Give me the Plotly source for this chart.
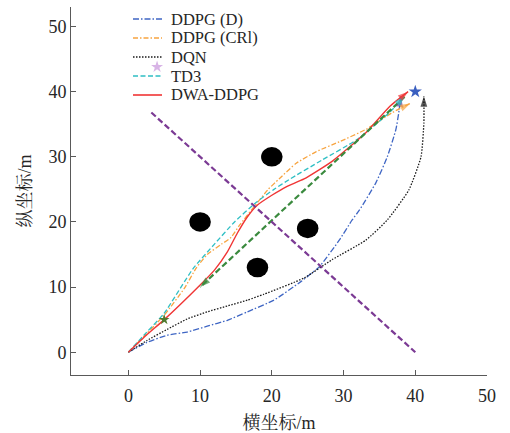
import plotly.graph_objects as go

# ---------------- data ----------------
ddpg_d_x = [0, 2.6, 5.4, 8.2, 11, 13.8, 16.6, 20.3, 24, 26.6, 29.4, 31.2, 32.2, 34.5, 36.1, 37.3, 37.7, 38.0]
ddpg_d_y = [0, 1.5, 2.6, 3.1, 4.0, 4.9, 6.2, 8.0, 10.8, 13.1, 17.2, 20.3, 21.8, 26.0, 30.0, 34.2, 36.8, 39.3]

ddpg_c_x = [0, 2.5, 5, 7.8, 9.5, 11, 13, 14.3, 15.5, 17.5, 19.5, 21, 23.4, 26.2, 29.4, 33.1, 36.8, 39.3]
ddpg_c_y = [0, 2.8, 5.7, 9.8, 13.0, 15.0, 16.6, 17.6, 19.5, 22.3, 25.0, 26.6, 29.0, 30.8, 32.3, 34.2, 36.8, 38.2]

dqn_x = [0, 2.6, 5.4, 8.2, 11, 13.8, 16.6, 18.9, 24.5, 28.4, 33.1, 36.1, 39.1, 40.8, 41.2, 41.2]
dqn_y = [0, 1.8, 3.5, 5.1, 6.2, 7.1, 8.0, 8.9, 11.4, 14.2, 17.2, 20.3, 24.9, 30.0, 35.2, 39.3]

td3_x = [0, 2.5, 5, 9, 12, 14.8, 17.8, 20.3, 22.4, 27, 31.8, 36.4, 38.5]
td3_y = [0, 3.0, 6.0, 12.8, 16.6, 20.0, 23.0, 25.0, 26.5, 29.5, 32.6, 36.8, 39.3]

dwa_x = [0, 2.5, 5, 9.9, 12, 13.8, 15.2, 16.6, 18, 20, 22, 24.5, 28.4, 33.1, 36.4, 39.0]
dwa_y = [0, 2.6, 5.0, 10.2, 12.6, 15.4, 18.3, 20.8, 22.6, 24.1, 25.4, 26.6, 29.3, 33.7, 37.7, 40.0]

green_x = [38.5, 10]
green_y = [39.2, 10]
purple_x = [3.2, 40]
purple_y = [36.8, 0]

obs_x = [20, 10, 25, 18]
obs_y = [30, 20, 19, 13]
obs_r = [1.5, 1.5, 1.5, 1.5]

goal_x, goal_y = [40], [40]
mark_x, mark_y = [5], [5]
star2_x, star2_y = [4], [43.8]

names = ["DDPG (D)", "DDPG (CRl)", "DQN", "TD3", "DWA-DDPG"]
xt = [0, 10, 20, 30, 40, 50]
yt = [0, 10, 20, 30, 40, 50]

FONT = "Liberation Serif, 'Noto Serif CJK SC', 'Noto Sans CJK SC', serif"
TXT = "#262626"
AX = "#595959"

fig = go.Figure()

series = [
    (ddpg_d_x, ddpg_d_y, names[0], "#3f66c4", "6px,2px,1.5px,2px", 1.3, "#6a3d9a"),
    (ddpg_c_x, ddpg_c_y, names[1], "#f7a440", "5px,2px,1.5px,2px", 1.3, "#f7a440"),
    (dqn_x, dqn_y, names[2], "#1a1a1a", "1.5px,1.5px", 1.3, "#111111"),
    (td3_x, td3_y, names[3], "#2fbfc4", "5px,2.5px", 1.3, "#2fbfc4"),
    (dwa_x, dwa_y, names[4], "#f03535", "solid", 1.4, "#f03535"),
]

for x, y, n, c, d, w, ac in series:
    fig.add_trace(go.Scatter(x=x, y=y, mode="lines", name=n, showlegend=False,
                             line=dict(color=c, dash=d, width=w, shape="spline", smoothing=0.5)))

# moving obstacle trajectories
fig.add_trace(go.Scatter(x=green_x, y=green_y, mode="lines", showlegend=False,
                         line=dict(color="#3a8a3e", dash="6px,3px", width=2.2)))
fig.add_trace(go.Scatter(x=purple_x, y=purple_y, mode="lines", showlegend=False,
                         line=dict(color="#7b3a94", dash="6px,3px", width=2.2)))

# arrowheads
for x, y, n, c, d, w, ac in series:
    fig.add_trace(go.Scatter(x=x[-2:], y=y[-2:], mode="markers", showlegend=False,
                             marker=dict(symbol="arrow", angleref="previous", size=[0, 11],
                                         color=ac, line=dict(width=0))))
fig.add_trace(go.Scatter(x=green_x, y=green_y, mode="markers", showlegend=False,
                         marker=dict(symbol="arrow", angleref="previous", size=[0, 11],
                                     color="#3a8a3e", line=dict(width=0))))

fig.add_trace(go.Scatter(x=goal_x, y=goal_y, mode="markers", showlegend=False,
                         marker=dict(symbol="star", size=10, color="#3a5fc0")))
fig.add_trace(go.Scatter(x=mark_x, y=mark_y, mode="markers", showlegend=False,
                         marker=dict(symbol="star", size=8, color="#4f7a2e")))
fig.add_trace(go.Scatter(x=star2_x, y=star2_y, mode="markers", showlegend=False,
                         marker=dict(symbol="star", size=9, color="#d8b4e6")))

for ox, oy, r in zip(obs_x, obs_y, obs_r):
    fig.add_shape(type="circle", xref="x", yref="y", x0=ox - r, x1=ox + r, y0=oy - r, y1=oy + r,
                  fillcolor="black", line=dict(color="black", width=0), layer="below")

# ---- legend drawn in paper coordinates (compact, like the original) ----
PL, PW, PT, PH = 71, 416, 7, 368          # plot area in pixels
row_px = [19, 38, 57, 76, 95]
line_x0, line_x1, text_x = 133, 162, 169
for (x, y, n, c, d, w, ac), ry in zip(series, row_px):
    py = (PT + PH - ry) / PH
    fig.add_shape(type="line", xref="paper", yref="paper",
                  x0=(line_x0 - PL) / PW, x1=(line_x1 - PL) / PW, y0=py, y1=py,
                  line=dict(color=c, dash=d, width=w + 0.2))
    fig.add_annotation(xref="paper", yref="paper", x=(text_x - PL) / PW, y=py,
                       text=n, showarrow=False, xanchor="left", yanchor="middle",
                       font=dict(family=FONT, size=16.5, color=TXT))

fig.update_layout(
    width=510, height=433,
    margin=dict(l=71, r=23, t=7, b=58, autoexpand=False),
    paper_bgcolor="white", plot_bgcolor="white",
    font=dict(family=FONT, size=18, color=TXT),
    showlegend=False,
)
fig.update_xaxes(range=[-8, 50], tickvals=xt, ticks="inside", ticklen=5, tickcolor=AX,
                 showline=True, linecolor=AX, linewidth=1, showgrid=False, zeroline=False,
                 tickfont=dict(size=18, color=TXT), ticklabelstandoff=4, automargin=False,
                 title=dict(text="横坐标/m", font=dict(size=18, color=TXT), standoff=13))
fig.update_yaxes(range=[-3.5, 53], tickvals=yt, ticks="inside", ticklen=5, tickcolor=AX,
                 showline=True, linecolor=AX, linewidth=1, showgrid=False, zeroline=False,
                 tickfont=dict(size=18, color=TXT), automargin=False,
                 title=dict(text="纵坐标/m", font=dict(size=18, color=TXT), standoff=12))

fig.write_html("out.html")
